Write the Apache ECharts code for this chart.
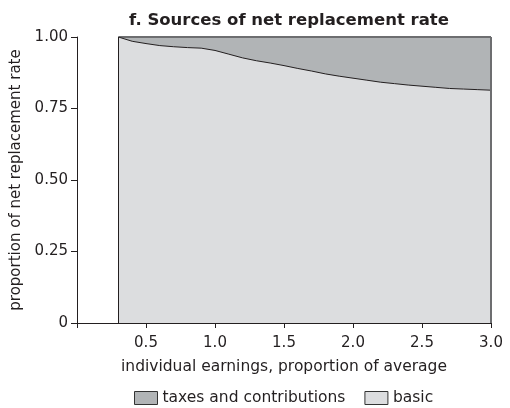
<!DOCTYPE html>
<html>
<head>
<meta charset="utf-8">
<script src="https://cdn.jsdelivr.net/npm/echarts@6/dist/echarts.min.js"></script>
<style>
  html, body { margin: 0; padding: 0; background: #fff; }
  #chart { width: 510px; height: 408px; }
</style>
</head>
<body>
<div id="chart"></div>
<script>
// Individual earnings, as a proportion of average earnings
const earnings = [0.3, 0.4, 0.5, 0.6, 0.7, 0.8, 0.9, 1.0, 1.1, 1.2, 1.3, 1.4, 1.5, 1.6,
  1.7, 1.8, 1.9, 2.0, 2.1, 2.2, 2.3, 2.4, 2.5, 2.6, 2.7, 2.8, 2.9, 3.0];

// Share of the net replacement rate coming from the basic pension
const basic = [1.000, 0.985, 0.977, 0.970, 0.966, 0.963, 0.961, 0.953, 0.940, 0.927,
  0.917, 0.909, 0.900, 0.890, 0.881, 0.871, 0.863, 0.856, 0.849, 0.842, 0.837, 0.832,
  0.828, 0.824, 0.820, 0.818, 0.816, 0.814];

// Share coming from lower taxes and contributions on pension income
const taxes = [0.000, 0.015, 0.023, 0.030, 0.034, 0.037, 0.039, 0.047, 0.060, 0.073,
  0.083, 0.091, 0.100, 0.110, 0.119, 0.129, 0.137, 0.144, 0.151, 0.158, 0.163, 0.168,
  0.172, 0.176, 0.180, 0.182, 0.184, 0.186];

const yTicks = ['0', '0.25', '0.50', '0.75', '1.00'];

const FONT = '"DejaVu Sans", Verdana, sans-serif';
const INK = '#231f20';
const LIGHT = '#dcdddf';
const DARK = '#b1b4b6';

const chart = echarts.init(document.getElementById('chart'), null, { renderer: 'canvas' });

// The two sources are stacked: basic at the bottom, taxes and contributions on top of it.
const basicPts = earnings.map((x, i) => [x, basic[i]]);
const totalPts = earnings.map((x, i) => [x, basic[i] + taxes[i]]);
const xFirst = earnings[0];
const xLast = earnings[earnings.length - 1];
const totalLast = basic[basic.length - 1] + taxes[taxes.length - 1];

chart.setOption({
  animation: false,
  textStyle: { fontFamily: FONT, color: INK },
  title: {
    text: 'f. Sources of net replacement rate',
    left: 284, top: 7, textAlign: 'center',
    textStyle: { fontFamily: FONT, fontSize: 16.5, fontWeight: 'bold', color: INK }
  },
  grid: { left: 77, right: 19, top: 37, bottom: 85, containLabel: false, outerBoundsMode: 'none' },
  legend: {
    top: 390, left: 134, padding: 0,
    itemWidth: 23, itemHeight: 13, itemGap: 19,
    textStyle: { fontFamily: FONT, fontSize: 15.5, color: INK },
    data: [
      { name: 'taxes and contributions', icon: 'rect', itemStyle: { color: DARK, borderColor: '#333', borderWidth: 1 } },
      { name: 'basic', icon: 'rect', itemStyle: { color: LIGHT, borderColor: '#333', borderWidth: 1 } }
    ]
  },
  xAxis: {
    type: 'value', min: 0, max: 3, interval: 0.5,
    name: 'individual earnings, proportion of average',
    nameLocation: 'middle', nameGap: 36,
    nameTextStyle: { fontFamily: FONT, fontSize: 15.5, color: INK },
    axisLine: { show: true, lineStyle: { color: INK, width: 1 } },
    axisTick: { show: true, length: 5, lineStyle: { color: INK } },
    axisLabel: {
      fontFamily: FONT, fontSize: 15, color: INK, margin: 13,
      formatter: (v) => (v === 0 ? '' : v.toFixed(1))
    },
    splitLine: { show: false }
  },
  yAxis: {
    type: 'value', min: 0, max: 1, interval: 0.25,
    name: 'proportion of net replacement rate',
    nameLocation: 'middle', nameGap: 52, nameRotate: 90,
    nameTextStyle: { fontFamily: FONT, fontSize: 15, color: INK },
    axisLine: { show: true, lineStyle: { color: INK, width: 1 } },
    axisTick: { show: true, length: 6, lineStyle: { color: INK } },
    axisLabel: {
      fontFamily: FONT, fontSize: 15, color: INK, margin: 9,
      formatter: (v) => yTicks[Math.round(v / 0.25)]
    },
    splitLine: { show: false }
  },
  series: [
    {
      name: 'taxes and contributions', type: 'line', data: totalPts,
      symbol: 'none', smooth: false,
      lineStyle: { color: '#6d6e70', width: 2 },
      itemStyle: { color: DARK },
      areaStyle: { color: DARK, opacity: 1 },
      markLine: {
        silent: true, symbol: 'none', label: { show: false },
        lineStyle: { color: '#6d6e70', width: 2, type: 'solid' },
        data: [[{ coord: [xLast, 0] }, { coord: [xLast, totalLast] }]]
      },
      z: 2
    },
    {
      name: 'basic', type: 'line', data: basicPts,
      symbol: 'none', smooth: false,
      lineStyle: { color: INK, width: 1 },
      itemStyle: { color: LIGHT },
      areaStyle: { color: LIGHT, opacity: 1 },
      markLine: {
        silent: true, symbol: 'none', label: { show: false },
        lineStyle: { color: INK, width: 1, type: 'solid' },
        data: [[{ coord: [xFirst, 0] }, { coord: [xFirst, basic[0]] }]]
      },
      z: 3
    }
  ]
});
</script>
</body>
</html>
